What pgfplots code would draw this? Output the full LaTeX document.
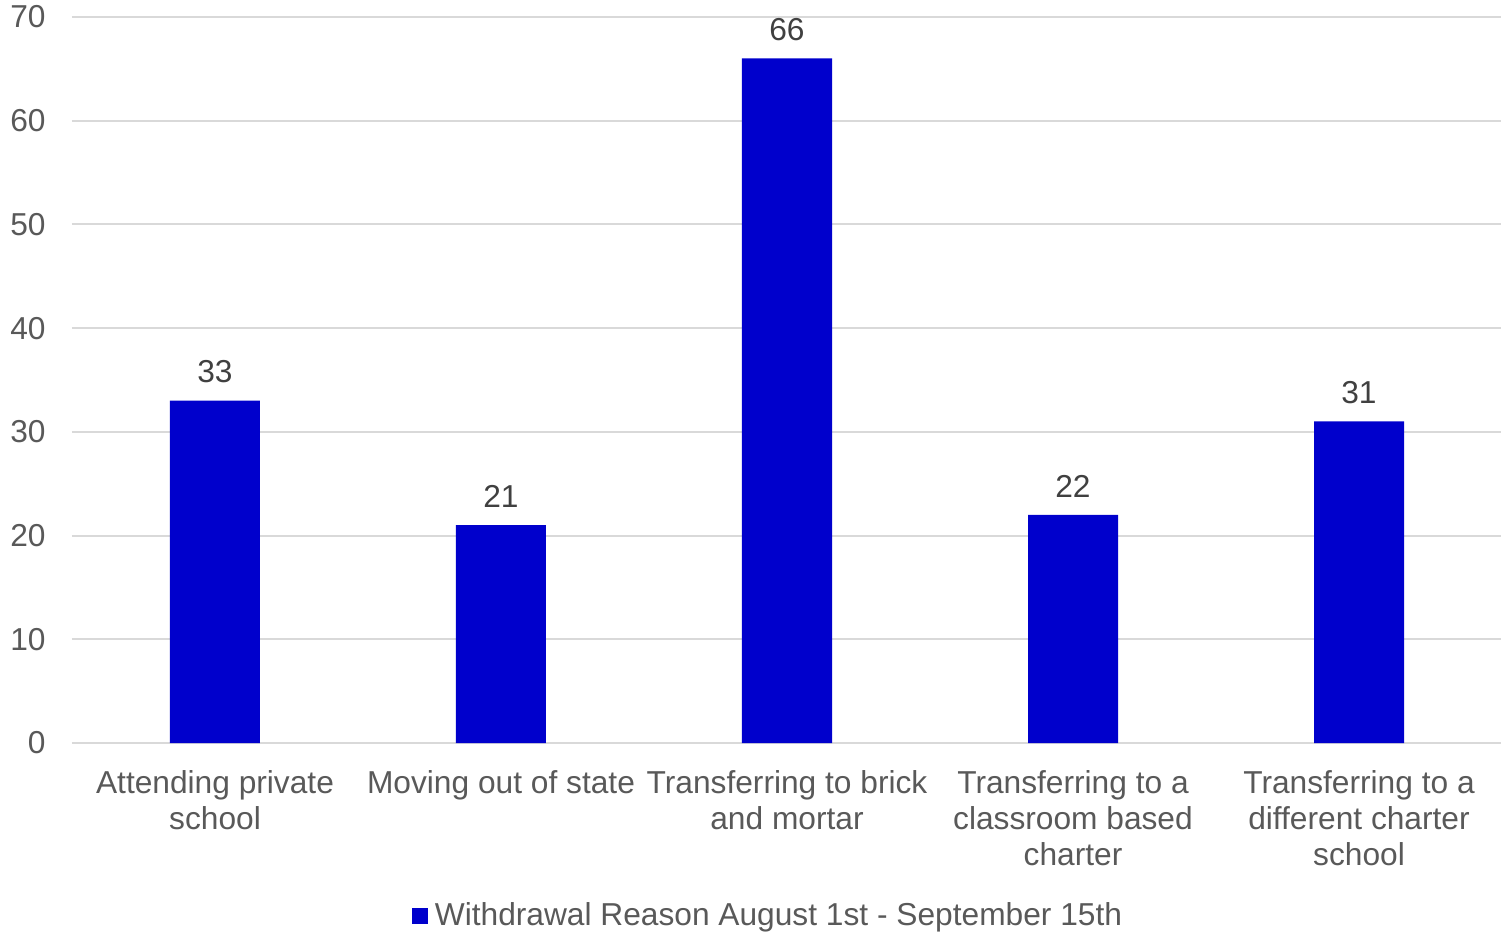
\documentclass[border=0pt]{standalone}
\usepackage{pgfplots}
\pgfplotsset{compat=1.18}
\usepackage{fontspec}
\setmainfont{Liberation Sans}
\definecolor{barblue}{HTML}{0000CC}
\definecolor{gridgray}{HTML}{D9D9D9}
\definecolor{ticklab}{HTML}{595959}
\definecolor{datalab}{HTML}{404040}
\begin{document}
\begin{tikzpicture}
\begin{axis}[
  at={(0,0)}, anchor=south west,
  scale only axis, width=715bp, height=363bp,
  xmin=-0.5, xmax=4.5, ymin=0, ymax=70,
  ytick={0,10,20,30,40,50,60,70},
  xtick={0,1,2,3,4},
  xticklabels={{Attending private\\school},{Moving out of state},{Transferring to brick\\and mortar},{Transferring to a\\classroom based\\charter},{Transferring to a\\different charter\\school}},
  ymajorgrids, grid style={gridgray, line width=1bp},
  axis line style={draw=none},
  major tick length=0pt,
  /pgf/number format/assume math mode=true,
  tick label style={font=\fontsize{15.85bp}{18bp}\selectfont, color=ticklab},
  yticklabel style={anchor=east, inner sep=0pt, xshift=-13bp},
  xticklabel style={anchor=north, inner sep=0pt, yshift=-13.5bp, align=center},
  ybar, bar width=45bp,
  nodes near coords,
  every node near coord/.append style={font=\fontsize{15.85bp}{18bp}\selectfont, color=datalab, anchor=south, inner sep=0pt, yshift=8.7bp},
  legend style={draw=none, fill=none, at={(0.486,-0.238)}, anchor=center,
    font=\fontsize{15.85bp}{18bp}\selectfont, text=ticklab,
    nodes={inner sep=0pt}, column sep=3.5bp},
  legend image code/.code={\fill[barblue] (0bp,-4bp) rectangle (8bp,4bp);},
]
\addplot[fill=barblue, draw=none] coordinates {(0,33) (1,21) (2,66) (3,22) (4,31)};
\addlegendentry{Withdrawal Reason August 1st - September 15th}
\end{axis}
\pgfresetboundingbox
\useasboundingbox (-36bp,-95bp) rectangle (714.5bp,371.5bp);
\end{tikzpicture}
\end{document}
